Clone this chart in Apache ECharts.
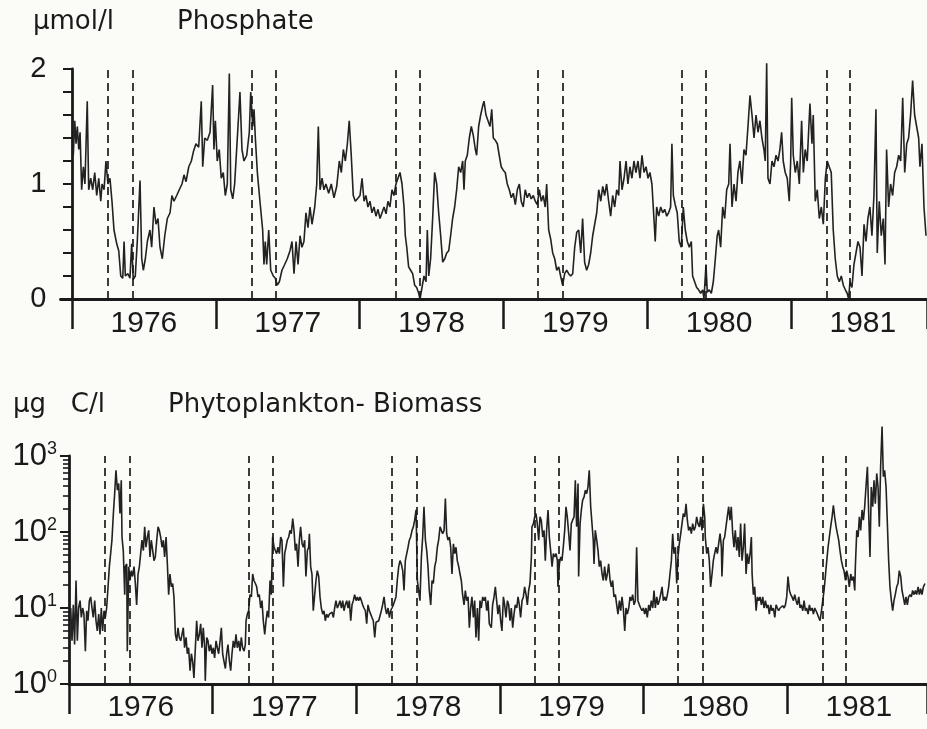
<!DOCTYPE html>
<html><head><meta charset="utf-8">
<script src="https://cdn.jsdelivr.net/npm/echarts@6/dist/echarts.min.js"></script>
<style>html,body{margin:0;padding:0;background:#fbfbf8}#c{width:927px;height:729px}</style>
</head><body><div id="c"></div><script>
// ---- data (time = years since 1 Jan 1976) ----
const years = [1976, 1977, 1978, 1979, 1980, 1981];
const phosTicks = [0, 1, 2];
const biomassTicks = [1, 10, 100, 1000];
const biomassMinorTicks = [2,3,4,5,6,7,8,9,20,30,40,50,60,70,80,90,200,300,400,500,600,700,800,900];
const dashStart = [0.254, 1.252, 2.255, 3.243, 4.242, 5.247];
const dashEnd = [0.421, 1.423, 2.425, 3.413, 4.408, 5.414];

const phosphate = [
[0.009,1.25],[0.019,1.55],[0.028,1.35],[0.037,1.5],[0.047,1.3],[0.056,1.45],[0.067,0.95],[0.079,1.15],[0.090,1.0],[0.106,1.72],[0.116,0.95],[0.130,1.05],[0.144,0.95],[0.158,1.1],[0.172,0.9],[0.186,1.05],[0.200,0.85],[0.209,1.0],[0.223,0.95],[0.236,1.2],[0.250,1.0],[0.264,1.05],[0.278,0.85],[0.292,0.6],[0.311,0.48],[0.325,0.42],[0.339,0.2],[0.353,0.18],[0.362,0.5],[0.371,0.2],[0.389,0.22],[0.403,0.18],[0.415,0.48],[0.426,0.17],[0.440,0.2],[0.454,0.5],[0.473,1.03],[0.485,0.35],[0.496,0.25],[0.510,0.35],[0.524,0.5],[0.542,0.6],[0.554,0.45],[0.570,0.8],[0.584,0.65],[0.598,0.7],[0.612,0.45],[0.628,0.35],[0.645,0.55],[0.663,0.7],[0.682,0.75],[0.695,0.9],[0.709,0.85],[0.728,0.9],[0.746,0.95],[0.765,1.0],[0.779,1.08],[0.793,1.02],[0.812,1.15],[0.830,1.2],[0.844,1.28],[0.862,1.35],[0.881,1.32],[0.899,1.72],[0.909,1.15],[0.923,1.4],[0.941,1.38],[0.960,1.45],[0.978,1.86],[0.987,1.3],[0.997,1.55],[1.010,1.2],[1.024,1.3],[1.038,1.05],[1.052,1.1],[1.066,0.9],[1.080,1.0],[1.094,1.96],[1.104,0.95],[1.118,0.87],[1.131,1.0],[1.145,1.3],[1.159,1.6],[1.168,1.8],[1.182,1.3],[1.196,1.2],[1.215,1.25],[1.233,1.45],[1.243,1.8],[1.257,1.5],[1.266,1.65],[1.275,1.4],[1.289,1.1],[1.307,0.85],[1.326,0.6],[1.335,0.3],[1.344,0.5],[1.354,0.3],[1.368,0.6],[1.382,0.25],[1.400,0.2],[1.414,0.18],[1.428,0.12],[1.442,0.15],[1.460,0.25],[1.479,0.3],[1.497,0.35],[1.516,0.42],[1.530,0.5],[1.544,0.22],[1.558,0.5],[1.572,0.3],[1.586,0.55],[1.599,0.45],[1.613,0.5],[1.627,0.75],[1.641,0.62],[1.655,0.8],[1.669,0.65],[1.688,0.8],[1.702,1.0],[1.713,1.5],[1.725,0.95],[1.739,1.05],[1.752,0.95],[1.766,1.0],[1.785,0.92],[1.803,1.0],[1.822,0.88],[1.841,0.98],[1.859,1.2],[1.873,1.1],[1.887,1.3],[1.901,1.2],[1.915,1.35],[1.928,1.55],[1.942,1.25],[1.956,0.9],[1.970,0.85],[1.991,0.88],
[2.003,0.9],[2.017,1.05],[2.031,0.85],[2.044,0.9],[2.058,0.8],[2.072,0.85],[2.086,0.75],[2.100,0.8],[2.114,0.72],[2.128,0.78],[2.142,0.7],[2.156,0.75],[2.170,0.8],[2.184,0.74],[2.197,0.85],[2.211,0.8],[2.225,0.95],[2.239,0.9],[2.253,1.0],[2.267,1.05],[2.281,1.1],[2.295,1.0],[2.309,0.8],[2.318,0.55],[2.328,0.45],[2.341,0.28],[2.355,0.25],[2.369,0.22],[2.383,0.12],[2.397,0.1],[2.411,0.05],[2.420,0.0],[2.434,0.1],[2.448,0.2],[2.462,0.15],[2.471,0.6],[2.481,0.2],[2.494,0.35],[2.508,0.7],[2.522,1.1],[2.536,1.0],[2.550,0.75],[2.564,0.55],[2.578,0.32],[2.592,0.35],[2.606,0.4],[2.620,0.42],[2.633,0.55],[2.647,0.7],[2.661,0.8],[2.675,0.95],[2.689,1.15],[2.703,1.1],[2.717,1.2],[2.726,0.95],[2.735,1.2],[2.749,1.25],[2.763,1.4],[2.777,1.5],[2.791,1.42],[2.805,1.3],[2.814,1.25],[2.828,1.5],[2.842,1.6],[2.856,1.68],[2.865,1.72],[2.879,1.6],[2.893,1.55],[2.907,1.5],[2.919,1.65],[2.930,1.4],[2.944,1.38],[2.958,1.35],[2.971,1.25],[2.985,1.15],[2.999,1.12],[3.013,1.1],[3.027,1.0],[3.041,0.95],[3.055,0.88],[3.069,0.92],[3.083,0.82],[3.097,0.95],[3.111,1.0],[3.124,0.85],[3.138,0.8],[3.152,0.95],[3.166,0.88],[3.180,0.92],[3.194,0.87],[3.208,0.9],[3.222,0.85],[3.236,0.82],[3.250,0.95],[3.264,0.85],[3.277,0.9],[3.291,0.8],[3.301,1.0],[3.315,0.6],[3.329,0.52],[3.343,0.4],[3.357,0.35],[3.371,0.25],[3.385,0.28],[3.398,0.2],[3.412,0.12],[3.426,0.22],[3.440,0.25],[3.454,0.22],[3.468,0.2],[3.482,0.22],[3.496,0.45],[3.510,0.58],[3.524,0.6],[3.538,0.4],[3.551,0.7],[3.565,0.32],[3.579,0.25],[3.593,0.3],[3.607,0.4],[3.621,0.55],[3.635,0.65],[3.649,0.75],[3.663,0.95],[3.677,0.85],[3.691,0.98],[3.704,0.9],[3.718,1.0],[3.732,0.85],[3.746,0.72],[3.760,0.9],[3.774,0.8],[3.788,0.95],[3.802,0.9],[3.811,1.2],[3.825,0.95],[3.839,1.05],[3.853,1.2],[3.866,1.0],[3.880,1.15],[3.894,1.05],[3.908,1.2],[3.922,1.1],[3.936,1.2],[3.950,1.05],[3.964,1.25],[3.978,1.1],[3.992,1.15],[4.006,1.05],[4.019,1.1],[4.033,1.0],[4.047,0.7],[4.056,0.5],
[4.066,0.8],[4.080,0.72],[4.094,0.8],[4.108,0.75],[4.122,0.78],[4.136,0.72],[4.149,0.75],[4.163,0.8],[4.172,1.35],[4.182,0.9],[4.195,0.82],[4.209,0.75],[4.223,0.5],[4.237,0.45],[4.251,0.8],[4.265,0.6],[4.279,0.5],[4.293,0.45],[4.307,0.5],[4.316,0.2],[4.330,0.15],[4.344,0.1],[4.358,0.08],[4.372,0.05],[4.386,0.08],[4.395,0.0],[4.409,0.3],[4.418,0.06],[4.432,0.08],[4.446,0.05],[4.460,0.15],[4.474,0.35],[4.487,0.55],[4.497,0.6],[4.511,0.45],[4.525,0.8],[4.539,0.7],[4.553,0.95],[4.567,1.0],[4.576,1.35],[4.590,0.8],[4.604,1.0],[4.618,0.85],[4.631,1.1],[4.645,1.2],[4.659,1.0],[4.673,1.3],[4.687,1.25],[4.701,1.5],[4.715,1.77],[4.729,1.6],[4.743,1.4],[4.757,1.6],[4.771,1.45],[4.784,1.55],[4.798,1.4],[4.812,1.3],[4.821,1.2],[4.831,2.05],[4.840,1.05],[4.854,1.0],[4.868,1.2],[4.882,1.15],[4.896,1.25],[4.910,1.2],[4.923,1.3],[4.935,1.45],[4.946,1.2],[4.960,1.1],[4.974,1.05],[4.988,0.85],[4.998,1.2],[5.005,1.75],[5.016,1.25],[5.030,1.1],[5.044,1.2],[5.058,1.0],[5.074,1.55],[5.086,1.1],[5.099,1.3],[5.113,1.2],[5.132,1.7],[5.146,1.35],[5.155,1.6],[5.169,0.85],[5.183,0.95],[5.197,0.7],[5.211,0.8],[5.225,0.65],[5.239,1.05],[5.252,1.2],[5.266,1.15],[5.280,1.1],[5.294,0.6],[5.308,0.35],[5.322,0.2],[5.336,0.15],[5.350,0.2],[5.364,0.12],[5.378,0.08],[5.391,0.05],[5.401,0.0],[5.410,0.15],[5.424,0.1],[5.438,0.3],[5.452,0.4],[5.466,0.5],[5.480,0.45],[5.494,0.2],[5.508,0.65],[5.522,0.5],[5.535,0.7],[5.549,0.8],[5.563,0.55],[5.577,0.9],[5.591,1.65],[5.600,0.4],[5.614,0.85],[5.628,0.55],[5.642,0.7],[5.654,0.3],[5.665,1.3],[5.679,0.8],[5.693,1.0],[5.707,0.9],[5.721,1.1],[5.735,1.15],[5.749,1.25],[5.763,1.2],[5.777,1.75],[5.791,1.1],[5.805,1.35],[5.818,1.4],[5.832,1.6],[5.846,1.9],[5.860,1.6],[5.874,1.5],[5.888,1.4],[5.897,1.15],[5.911,1.35],[5.925,0.8],[5.939,0.55]
];

const biomass = [
[0.012,10],[0.021,3.7],[0.030,11],[0.039,3.3],[0.049,23],[0.058,3.7],[0.067,10],[0.077,12.5],[0.086,7.5],[0.095,10],[0.104,8.3],[0.114,2.7],[0.123,9.2],[0.132,6.8],[0.142,12.5],[0.151,14],[0.160,10],[0.169,7.5],[0.179,12.5],[0.188,6.8],[0.197,5],[0.207,8.3],[0.216,4.5],[0.225,10],[0.234,5],[0.244,9.2],[0.253,7.5],[0.262,10],[0.272,19],[0.281,35],[0.290,52],[0.299,78],[0.309,175],[0.318,320],[0.327,650],[0.337,355],[0.346,435],[0.355,175],[0.364,480],[0.369,86],[0.378,57],[0.388,15],[0.392,35],[0.402,38],[0.406,2.7],[0.416,35],[0.425,23],[0.434,31],[0.443,26],[0.453,35],[0.462,21],[0.471,11],[0.481,28],[0.490,35],[0.499,52],[0.508,78],[0.518,57],[0.527,117],[0.536,63],[0.546,86],[0.555,105],[0.564,47],[0.573,78],[0.583,57],[0.592,42],[0.601,47],[0.611,78],[0.620,117],[0.629,105],[0.638,86],[0.648,63],[0.657,78],[0.666,47],[0.676,86],[0.685,38],[0.694,15],[0.703,28],[0.713,19],[0.722,21],[0.731,14],[0.741,4.5],[0.750,3.7],[0.759,5.5],[0.768,4.1],[0.778,3.7],[0.787,4.5],[0.796,5.5],[0.805,3.0],[0.815,4.1],[0.824,2.5],[0.833,3.0],[0.843,1.5],[0.852,2.5],[0.861,2.0],[0.870,1.2],[0.880,3.0],[0.889,6.8],[0.898,3.7],[0.908,4.5],[0.917,6.2],[0.926,3.0],[0.935,5.5],[0.945,3.0],[0.949,1.1],[0.959,4.1],[0.968,3.7],[0.977,2.7],[0.987,3.3],[0.996,2.5],[1.005,3.0],[1.014,2.2],[1.024,3.7],[1.033,3.0],[1.042,2.5],[1.052,3.7],[1.061,5.5],[1.070,2.5],[1.079,2.0],[1.089,1.6],[1.098,2.5],[1.107,3.3],[1.117,2.0],[1.126,1.5],[1.135,2.5],[1.144,3.7],[1.154,3.0],[1.163,4.5],[1.172,3.0],[1.182,3.7],[1.191,2.7],[1.200,4.1],[1.209,3.0],[1.219,2.7],[1.228,3.3],[1.233,6.8],[1.242,8.3],[1.251,9.2],[1.260,15],[1.270,14],[1.279,28],[1.288,23],[1.298,21],[1.307,19],[1.316,14],[1.325,15],[1.335,10],[1.344,12.5],[1.353,6.8],[1.363,4.5],[1.372,6.8],[1.381,9.2],[1.390,7.5],[1.400,23],[1.409,15],[1.418,86],[1.428,63],[1.437,57],[1.446,52],[1.455,63],
[1.465,52],[1.474,86],[1.483,78],[1.493,19],[1.502,52],[1.511,63],[1.520,78],[1.530,86],[1.539,105],[1.548,95],[1.558,150],[1.567,105],[1.576,57],[1.585,70],[1.595,35],[1.604,78],[1.613,117],[1.623,70],[1.632,63],[1.641,78],[1.650,26],[1.660,57],[1.669,63],[1.674,95],[1.683,35],[1.692,28],[1.701,9.2],[1.711,15],[1.720,23],[1.729,31],[1.739,26],[1.748,14],[1.757,10],[1.767,8.3],[1.776,9.2],[1.785,6.8],[1.794,8.3],[1.804,7.5],[1.813,8.3],[1.822,8.3],[1.832,8.8],[1.841,7.5],[1.850,10],[1.859,12.5],[1.869,10],[1.878,11],[1.887,12.5],[1.897,10],[1.906,12.5],[1.915,9.2],[1.924,11],[1.934,12.5],[1.943,10],[1.952,12.5],[1.962,6.8],[1.971,11],[1.980,12.5],[1.989,15],[1.999,12.5],[2.008,14],[2.017,12.5],[2.027,14],[2.036,12.5],[2.045,11],[2.054,10],[2.064,9.2],[2.073,6.2],[2.082,11],[2.092,9.2],[2.101,8.3],[2.110,7.5],[2.119,6.8],[2.129,4.1],[2.138,6.5],[2.147,6.2],[2.157,6.8],[2.166,6.5],[2.175,9.2],[2.184,11],[2.194,14],[2.203,10],[2.212,8.3],[2.222,10],[2.231,7.5],[2.240,9.2],[2.249,10],[2.259,11],[2.268,11],[2.277,14],[2.286,23],[2.296,35],[2.305,42],[2.314,38],[2.324,31],[2.333,17],[2.342,42],[2.352,52],[2.361,63],[2.370,78],[2.379,86],[2.389,105],[2.398,117],[2.407,143],[2.417,195],[2.426,23],[2.435,17],[2.444,12.5],[2.454,47],[2.463,86],[2.472,215],[2.482,78],[2.491,57],[2.500,35],[2.509,17],[2.519,11],[2.528,23],[2.537,21],[2.547,35],[2.556,42],[2.565,63],[2.574,78],[2.584,117],[2.593,105],[2.602,95],[2.612,105],[2.621,275],[2.630,95],[2.639,78],[2.649,86],[2.658,63],[2.667,28],[2.677,70],[2.686,52],[2.695,63],[2.704,42],[2.714,35],[2.723,28],[2.732,23],[2.741,15],[2.751,11],[2.760,17],[2.769,12.5],[2.779,14],[2.788,5.5],[2.797,10],[2.806,14],[2.816,7.5],[2.825,12.5],[2.834,4.1],[2.844,10],[2.853,3.7],[2.862,12.5],[2.871,10],[2.881,14],[2.890,12.5],[2.899,14],[2.909,9.2],[2.918,12.5],[2.927,6.2],
[2.941,5.5],[2.950,11],[2.960,14],[2.969,19],[2.978,12.5],[2.987,8.3],[2.997,11],[3.006,6.8],[3.015,5.0],[3.025,14],[3.034,11],[3.043,7.5],[3.053,12.5],[3.062,11],[3.071,6.8],[3.080,10],[3.090,5.5],[3.099,8.3],[3.108,11],[3.118,10],[3.127,14],[3.136,11],[3.145,7.5],[3.155,12.5],[3.164,14],[3.173,19],[3.183,15],[3.192,11],[3.201,17],[3.210,21],[3.220,47],[3.224,117],[3.234,129],[3.243,158],[3.252,175],[3.261,129],[3.271,78],[3.280,158],[3.289,143],[3.299,86],[3.308,105],[3.317,42],[3.326,105],[3.336,195],[3.345,86],[3.354,57],[3.364,35],[3.373,52],[3.382,47],[3.392,52],[3.401,42],[3.405,19],[3.415,38],[3.424,47],[3.433,42],[3.442,63],[3.452,105],[3.461,215],[3.470,158],[3.480,95],[3.489,57],[3.498,129],[3.507,143],[3.517,158],[3.526,480],[3.535,117],[3.545,435],[3.549,26],[3.559,129],[3.568,195],[3.577,262],[3.587,290],[3.596,355],[3.605,320],[3.614,390],[3.623,650],[3.633,215],[3.642,129],[3.651,78],[3.656,38],[3.665,105],[3.675,78],[3.684,57],[3.693,35],[3.702,42],[3.712,28],[3.721,23],[3.730,35],[3.740,23],[3.749,28],[3.758,38],[3.768,23],[3.777,19],[3.786,23],[3.795,14],[3.805,15],[3.814,11],[3.823,8.3],[3.833,12.5],[3.842,9.2],[3.851,14],[3.860,10],[3.870,5.0],[3.879,10],[3.888,8.3],[3.898,10],[3.907,14],[3.916,12.5],[3.925,15],[3.935,11],[3.944,12.5],[3.953,63],[3.962,12.5],[3.972,11],[3.981,10],[3.990,9.2],[4.000,10],[4.009,8.3],[4.018,10],[4.027,7.5],[4.037,11],[4.046,9.2],[4.055,12.5],[4.065,10],[4.074,17],[4.083,10],[4.093,14],[4.102,11],[4.111,12.5],[4.120,15],[4.130,19],[4.139,12.5],[4.148,14],[4.158,12.5],[4.167,15],[4.176,19],[4.185,28],[4.195,42],[4.204,95],[4.213,52],[4.223,63],[4.232,21],[4.241,47],[4.250,70],[4.260,95],[4.269,129],[4.278,175],[4.288,158],[4.297,235],[4.306,143],[4.315,105],[4.325,117],[4.334,95],[4.343,129],[4.353,105],[4.362,117],[4.371,158],[4.380,129],
[4.390,117],[4.399,158],[4.408,105],[4.418,235],[4.427,158],[4.431,86],[4.441,52],[4.450,63],[4.459,42],[4.468,19],[4.478,28],[4.487,42],[4.496,52],[4.506,63],[4.515,52],[4.524,70],[4.534,95],[4.543,63],[4.547,26],[4.557,78],[4.566,86],[4.575,117],[4.584,158],[4.594,215],[4.603,143],[4.612,215],[4.622,95],[4.631,63],[4.640,105],[4.650,57],[4.659,86],[4.668,47],[4.677,129],[4.687,42],[4.696,63],[4.705,129],[4.715,28],[4.724,52],[4.733,38],[4.743,52],[4.752,86],[4.757,28],[4.766,15],[4.775,19],[4.785,9.2],[4.794,14],[4.803,12.5],[4.812,14],[4.822,11],[4.831,14],[4.840,10],[4.850,12.5],[4.859,10],[4.868,11],[4.877,8.3],[4.887,11],[4.896,9.2],[4.905,10],[4.915,7.5],[4.924,11],[4.933,10],[4.942,9.2],[4.952,10],[4.961,9.5],[4.970,10.7],[4.980,10],[4.989,11],[4.998,14],[5.007,26],[5.017,17],[5.026,15],[5.035,14],[5.045,12.5],[5.054,15],[5.063,12.5],[5.072,11],[5.082,14],[5.091,10],[5.100,11],[5.110,9.2],[5.119,12.5],[5.128,9.2],[5.137,10],[5.147,8.3],[5.156,11],[5.165,9.2],[5.175,10],[5.184,8.3],[5.193,10],[5.202,9.2],[5.212,8.3],[5.221,7.5],[5.230,6.8],[5.240,9.2],[5.249,12.5],[5.258,17],[5.267,26],[5.277,42],[5.286,63],[5.295,86],[5.304,117],[5.314,158],[5.323,225],[5.332,158],[5.342,117],[5.351,95],[5.360,78],[5.369,57],[5.379,42],[5.388,35],[5.397,31],[5.407,23],[5.416,31],[5.425,26],[5.434,19],[5.444,28],[5.453,23],[5.462,26],[5.472,17],[5.476,35],[5.486,105],[5.495,86],[5.504,158],[5.513,105],[5.523,195],[5.532,143],[5.541,215],[5.550,390],[5.560,720],[5.569,175],[5.578,47],[5.587,390],[5.597,215],[5.606,480],[5.615,235],[5.625,590],[5.634,390],[5.643,117],[5.652,720],[5.662,2450],[5.671,535],[5.680,650],[5.690,390],[5.699,129],[5.708,42],[5.717,19],[5.727,12.5],[5.736,9.2],[5.745,12.5],[5.754,15],[5.764,19],[5.773,21],[5.782,31],[5.792,26],[5.801,17],[5.810,14],[5.820,11],[5.829,14],[5.838,11],[5.847,14],[5.857,15],[5.866,14],[5.875,17],[5.885,15],[5.894,17],[5.903,15],[5.913,19],[5.922,15],[5.931,18],[5.940,15],[5.950,19],[5.961,21]
];

// ---- chart ----
const INK = '#1a1a1a';
const LINE = '#222222';
const NUM_FONT = "'Liberation Sans', Arial, sans-serif";
const YEAR_FONT = "'Liberation Sans Narrow', 'Liberation Sans', Arial, sans-serif";
const TITLE_FONT = "26px 'DejaVu Sans', sans-serif";

const TOP_MAX = 5.946, BOT_MAX = 5.975;
const yearBounds = years.map((y, i) => i);
const yearMids = years.map((y, i) => i + 0.5);
const yearLabel = v => String(years[Math.floor(v)]);

function xAxisFor(gridIndex, min, max, margin) {
  return {
    gridIndex, type: 'value', min, max,
    axisLine: { show: true, onZero: false, lineStyle: { color: INK, width: 2.8 } },
    axisTick: { show: true, inside: false, length: 30, customValues: yearBounds.concat([max]),
      lineStyle: { color: INK, width: 2.5 } },
    axisLabel: { show: true, customValues: yearMids, formatter: yearLabel, margin,
      fontSize: 30, fontFamily: YEAR_FONT, color: INK },
    splitLine: { show: false }
  };
}
const dashLines = dashStart.concat(dashEnd).map(v => ({ xAxis: v }));
const markLine = {
  silent: true, symbol: ['none', 'none'], label: { show: false },
  lineStyle: { type: [8, 5], width: 1.7, color: INK }, emphasis: { disabled: true },
  data: dashLines
};

const option = {
  animation: false,
  backgroundColor: '#fbfbf8',
  textStyle: { fontFamily: NUM_FONT },
  grid: [
    { left: 60.5, top: 69, width: 866.5, height: 230, containLabel: false, outerBoundsMode: 'none' },
    { left: 69, top: 456, width: 858, height: 228, containLabel: false, outerBoundsMode: 'none' }
  ],
  xAxis: [
    xAxisFor(0, -0.08, TOP_MAX, 10),
    xAxisFor(1, 0, BOT_MAX, 9)
  ],
  yAxis: [
    { gridIndex: 0, type: 'value', min: phosTicks[0], max: phosTicks[phosTicks.length - 1], interval: 1,
      axisLine: { show: true, onZero: true, lineStyle: { color: INK, width: 2.8 } },
      axisTick: { show: true, length: 9, lineStyle: { color: INK, width: 2 } },
      minorTick: { show: true, splitNumber: 5, length: 9, lineStyle: { color: INK, width: 2 } },
      axisLabel: { margin: 14, fontSize: 29, fontFamily: NUM_FONT, color: INK },
      splitLine: { show: false }, minorSplitLine: { show: false } },
    { gridIndex: 1, type: 'log', logBase: 10, min: biomassTicks[0], max: biomassTicks[biomassTicks.length - 1],
      position: 'left',
      axisLine: { show: true, onZero: true, lineStyle: { color: INK, width: 2.8 } },
      axisTick: { show: true, length: 9, customValues: biomassTicks, lineStyle: { color: INK, width: 2 } },
      axisLabel: { margin: 12, customValues: biomassTicks,
        formatter: v => '{b|10}{s|' + Math.round(Math.log10(v)) + '}',
        rich: {
          b: { fontSize: 31, fontFamily: NUM_FONT, color: INK, lineHeight: 32 },
          s: { fontSize: 18, fontFamily: NUM_FONT, color: INK, lineHeight: 32, verticalAlign: 'top' }
        } },
      splitLine: { show: false } },
    { gridIndex: 1, type: 'log', logBase: 10, min: biomassTicks[0], max: biomassTicks[biomassTicks.length - 1],
      position: 'left', offset: 0,
      axisLine: { show: false, onZero: false },
      axisTick: { show: true, length: 6, customValues: biomassMinorTicks, lineStyle: { color: INK, width: 1.6 } },
      axisLabel: { show: false }, splitLine: { show: false } }
  ],
  graphic: [
    { type: 'text', left: 33, top: 9, style: { text: 'µmol/l', font: TITLE_FONT, fill: INK } },
    { type: 'text', left: 177, top: 9, style: { text: 'Phosphate', font: TITLE_FONT, fill: INK } },
    { type: 'text', left: 13, top: 392, style: { text: 'µg   C/l', font: TITLE_FONT, fill: INK } },
    { type: 'text', left: 168, top: 392, style: { text: 'Phytoplankton- Biomass', font: TITLE_FONT, fill: INK } }
  ],
  series: [
    { name: 'Phosphate', type: 'line', xAxisIndex: 0, yAxisIndex: 0, data: phosphate,
      showSymbol: false, symbol: 'none', clip: false, silent: true,
      lineStyle: { color: LINE, width: 1.6 }, markLine },
    { name: 'Phytoplankton-Biomass', type: 'line', xAxisIndex: 1, yAxisIndex: 1, data: biomass,
      showSymbol: false, symbol: 'none', clip: false, silent: true,
      lineStyle: { color: LINE, width: 1.6 }, markLine }
  ]
};
const chart = echarts.init(document.getElementById('c'));
chart.setOption(option);
</script></body></html>
